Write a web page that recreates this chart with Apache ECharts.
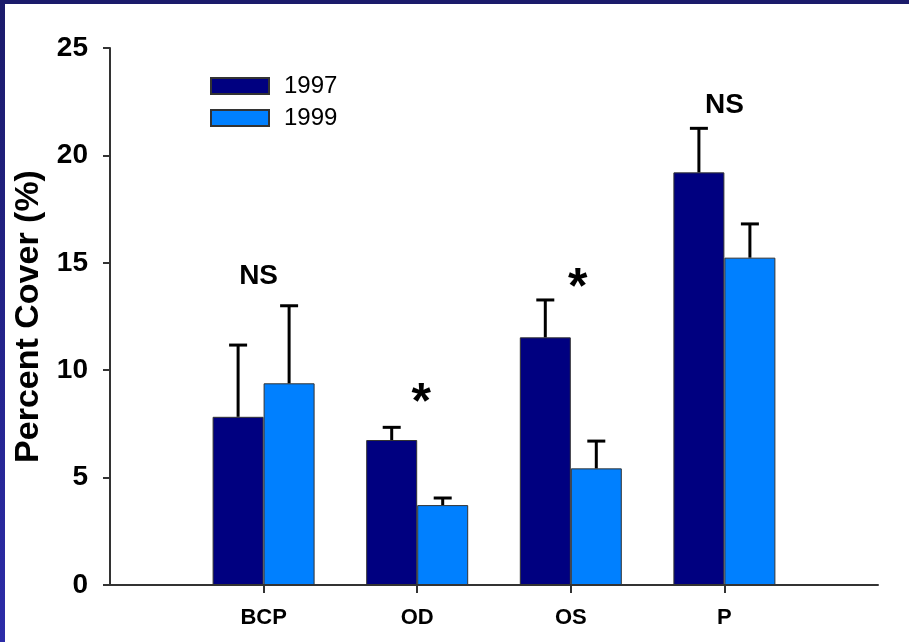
<!DOCTYPE html>
<html>
<head>
<meta charset="utf-8">
<script src="https://cdn.jsdelivr.net/npm/echarts@6/dist/echarts.min.js"></script>
<style>
html,body{margin:0;padding:0;background:#fff;}
#chart{width:909px;height:642px;}
</style>
</head>
<body>
<div id="chart"></div>
<script>
// ---- data ----
const categories = ['BCP', 'OD', 'OS', 'P'];
const seriesNames = ['1997', '1999'];
const mean1997 = [7.83, 6.75, 11.53, 19.21];
const mean1999 = [9.39, 3.72, 5.43, 15.24];
const upper1997 = [11.17, 7.34, 13.27, 21.26];
const upper1999 = [13.0, 4.05, 6.70, 16.81];
const yTicks = [0, 5, 10, 15, 20, 25];
const annotText = ['NS', '*', '*', 'NS'];
const annotValue = [14.38, 8.94, 14.29, 22.35];

// ---- build ----
const axisCats = [''].concat(categories).concat(['']);
const pad = arr => [null].concat(arr).concat([null]);
const FONT = '"Liberation Sans", Arial, sans-serif';
const BW = 51;

function errData(upper, mean) {
  return upper.map((u, i) => [i + 1, mean[i], u]);
}
function errRender(offset) {
  return function (params, api) {
    const x = api.value(0);
    const p0 = api.coord([x, api.value(1)]);
    const p1 = api.coord([x, api.value(2)]);
    const cx = p0[0] + offset;
    const st = { stroke: '#000', lineWidth: 3 };
    return {
      type: 'group',
      children: [
        { type: 'line', shape: { x1: cx, y1: p0[1], x2: cx, y2: p1[1] }, style: st },
        { type: 'line', shape: { x1: cx - 9, y1: p1[1], x2: cx + 9, y2: p1[1] }, style: st }
      ]
    };
  };
}

const chart = echarts.init(document.getElementById('chart'), null, { renderer: 'canvas' });
chart.setOption({
  animation: false,
  backgroundColor: '#fff',
  textStyle: { fontFamily: FONT },
  graphic: [
    { type: 'rect', left: 0, top: 0, shape: { width: 909, height: 4 }, style: { fill: '#1b1b6b' }, z: 100 },
    { type: 'rect', left: 0, top: 0, shape: { width: 5, height: 642 },
      style: { fill: new echarts.graphic.LinearGradient(0, 0, 0, 1, [
        { offset: 0, color: '#1b1b6b' }, { offset: 1, color: '#2c2ca8' }]) }, z: 100 }
  ],
  legend: {
    data: seriesNames.map(n => ({ name: n, icon: 'rect' })),
    orient: 'vertical',
    left: 210,
    top: 74,
    padding: 0,
    itemWidth: 58,
    itemHeight: 16,
    itemGap: 8,
    textStyle: { fontSize: 24, color: '#000', fontFamily: FONT, padding: [0, 0, 0, 10] },
    selectedMode: false
  },
  grid: { left: 110, right: 31, top: 48, bottom: 57, containLabel: false },
  xAxis: {
    type: 'category',
    data: axisCats,
    boundaryGap: false,
    axisLine: { lineStyle: { color: '#333', width: 2 } },
    axisTick: { show: true, length: 8, lineStyle: { color: '#333', width: 2 },
      interval: function (i) { return i > 0 && i < axisCats.length - 1; } },
    axisLabel: { fontSize: 22, fontWeight: 'bold', color: '#000', margin: 22, fontFamily: FONT,
      interval: 0 },
    splitLine: { show: false }
  },
  yAxis: {
    type: 'value',
    min: 0, max: 25, interval: 5,
    name: 'Percent Cover (%)',
    nameLocation: 'middle',
    nameGap: 64,
    nameTextStyle: { fontSize: 34, fontWeight: 'bold', color: '#000', fontFamily: FONT },
    axisLine: { show: true, lineStyle: { color: '#333', width: 2 } },
    axisTick: { show: true, length: 7, lineStyle: { color: '#333', width: 2 } },
    axisLabel: { fontSize: 28, fontWeight: 'bold', color: '#000', margin: 22, fontFamily: FONT,
      formatter: v => yTicks.indexOf(v) >= 0 ? String(v) : '' },
    splitLine: { show: false }
  },
  series: [
    { name: seriesNames[0], type: 'bar', data: pad(mean1997), barWidth: BW, barGap: '0%',
      itemStyle: { color: '#000080', borderColor: '#333', borderWidth: 1 } },
    { name: seriesNames[1], type: 'bar', data: pad(mean1999), barWidth: BW, barGap: '0%',
      itemStyle: { color: '#0080ff', borderColor: '#333', borderWidth: 1 } },
    { type: 'custom', renderItem: errRender(-BW / 2), data: errData(upper1997, mean1997), z: 5,
      encode: { x: 0, y: [1, 2] } },
    { type: 'custom', renderItem: errRender(BW / 2), data: errData(upper1999, mean1999), z: 5,
      encode: { x: 0, y: [1, 2] } },
    { type: 'scatter', symbolSize: 1, silent: true, z: 6,
      itemStyle: { color: 'rgba(0,0,0,0)', opacity: 1 },
      data: annotValue.map((v, i) => ({ value: [i + 1, v],
        label: {
          formatter: annotText[i],
          fontSize: annotText[i] === '*' ? 50 : 28,
          color: '#000',
          opacity: 1,
          offset: [[-5, 4, 7, 0][i], annotText[i] === '*' ? 11 : 0]
        } })),
      label: { show: true, position: 'inside', color: '#000', fontWeight: 'bold', fontFamily: FONT },
      emphasis: { disabled: true }
    }
  ]
});
</script>
</body>
</html>
